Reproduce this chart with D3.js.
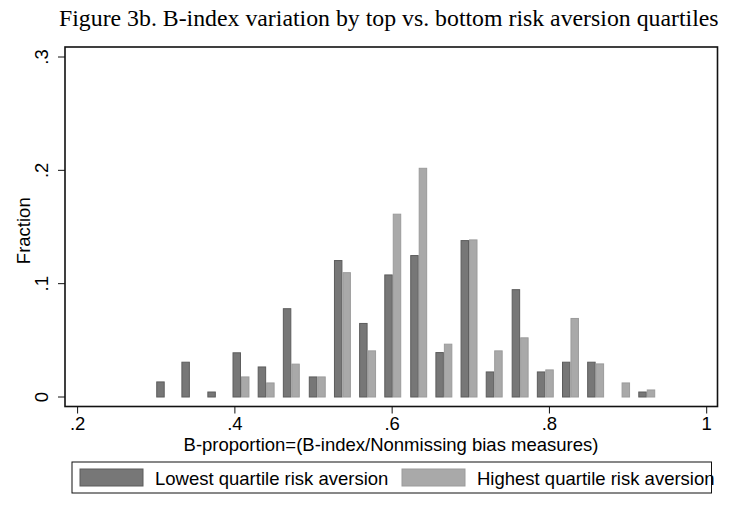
<!DOCTYPE html>
<html>
<head>
<meta charset="utf-8">
<script src="https://cdn.jsdelivr.net/npm/d3@7"></script>
<style>
  body { margin: 0; background: #fff; }
  svg { display: block; }
</style>
</head>
<body>
<div id="chart"></div>
<script>
// bin starts (B-proportion) and fractions for each group
var binStarts = [0.300, 0.332, 0.365, 0.397, 0.429, 0.461, 0.494, 0.526, 0.558, 0.590,
                 0.623, 0.655, 0.687, 0.719, 0.752, 0.784, 0.816, 0.848, 0.881, 0.913];
var binWidth = 0.0323;
var lowest  = [0.0133, 0.0307, 0.0044, 0.0390, 0.0265, 0.0779, 0.0177, 0.1204, 0.0649, 0.1077,
               0.1248, 0.0392, 0.1380, 0.0221, 0.0947, 0.0221, 0.0307, 0.0307, 0, 0.0044];
var highest = [0, 0, 0, 0.0177, 0.0124, 0.0290, 0.0177, 0.1097, 0.0407, 0.1613,
               0.2018, 0.0466, 0.1386, 0.0407, 0.0522, 0.0239, 0.0693, 0.0292, 0.0124, 0.0062];
var xTicks = [0.2, 0.4, 0.6, 0.8, 1];
var xTickLabels = ['.2', '.4', '.6', '.8', '1'];
var yTicks = [0, 0.1, 0.2, 0.3];
var yTickLabels = ['0', '.1', '.2', '.3'];
var legendLabels = ['Lowest quartile risk aversion', 'Highest quartile risk aversion'];

var W = 739, H = 510;
var frame = {left: 65, right: 717.5, top: 47, bottom: 406.5};
var sans = 'Liberation Sans, Arial, Helvetica, sans-serif';
var fs = 18.5;

var svg = d3.select('#chart').append('svg').attr('width', W).attr('height', H);

var x = d3.scaleLinear().domain([0.2, 1]).range([77.6, 706.7]);
var y = d3.scaleLinear().domain([0, 0.3]).range([397, 57]);

// title
svg.append('text')
	.attr('x', 59).attr('y', 26)
	.attr('font-family', 'Liberation Serif, Times New Roman, serif')
	.attr('font-size', 23.8)
	.text('Figure 3b. B-index variation by top vs. bottom risk aversion quartiles');

var series = [
	{values: lowest, fill: '#777777', stroke: '#5c5c5c', offset: 0},
	{values: highest, fill: '#a9a9a9', stroke: '#9b9b9b', offset: 1}
];

series.forEach(function(s) {
	svg.append('g').selectAll('rect')
		.data(binStarts.map(function(b, i) { return {b: b, v: s.values[i]}; }).filter(function(d) { return d.v > 0; }))
		.enter().append('rect')
			.attr('x', d => x(d.b + s.offset * binWidth / 3) + 0.5)
			.attr('width', d => x(d.b + binWidth / 3) - x(d.b) - 1)
			.attr('y', d => y(d.v))
			.attr('height', d => y(0) - y(d.v))
			.attr('fill', s.fill)
			.attr('stroke', s.stroke)
			.attr('stroke-width', 1);
});

// plot frame
svg.append('rect')
	.attr('x', frame.left).attr('y', frame.top)
	.attr('width', frame.right - frame.left).attr('height', frame.bottom - frame.top)
	.attr('fill', 'none').attr('stroke', '#111').attr('stroke-width', 1.6);

// y axis ticks
var yt = svg.append('g');
yt.selectAll('line').data(yTicks).enter().append('line')
	.attr('x1', frame.left - 7).attr('x2', frame.left)
	.attr('y1', d => y(d)).attr('y2', d => y(d))
	.attr('stroke', '#111').attr('stroke-width', 1);
yt.selectAll('text').data(yTicks).enter().append('text')
	.attr('transform', d => `translate(48, ${y(d)}) rotate(-90)`)
	.attr('text-anchor', 'middle')
	.attr('font-family', sans).attr('font-size', fs)
	.text((d, i) => yTickLabels[i]);

svg.append('text')
	.attr('transform', `translate(30, ${(frame.top + frame.bottom) / 2 + 4}) rotate(-90)`)
	.attr('text-anchor', 'middle')
	.attr('font-family', sans).attr('font-size', fs)
	.text('Fraction');

// x axis ticks
var xt = svg.append('g');
xt.selectAll('line').data(xTicks).enter().append('line')
	.attr('x1', d => x(d)).attr('x2', d => x(d))
	.attr('y1', frame.bottom).attr('y2', frame.bottom + 7)
	.attr('stroke', '#111').attr('stroke-width', 1);
xt.selectAll('text').data(xTicks).enter().append('text')
	.attr('x', d => x(d)).attr('y', 430)
	.attr('text-anchor', 'middle')
	.attr('font-family', sans).attr('font-size', fs)
	.text((d, i) => xTickLabels[i]);

svg.append('text')
	.attr('x', 391).attr('y', 451)
	.attr('text-anchor', 'middle')
	.attr('font-family', sans).attr('font-size', fs)
	.text('B-proportion=(B-index/Nonmissing bias measures)');

// legend
var lg = svg.append('g');
lg.append('rect')
	.attr('x', 72).attr('y', 462).attr('width', 639.5).attr('height', 31)
	.attr('fill', 'none').attr('stroke', '#111').attr('stroke-width', 1);
var legendX = [80, 402];
series.forEach(function(s, i) {
	lg.append('rect')
		.attr('x', legendX[i]).attr('y', 469).attr('width', 63).attr('height', 17)
		.attr('fill', s.fill).attr('stroke', s.stroke);
	lg.append('text')
		.attr('x', legendX[i] + 75).attr('y', 484.5)
		.attr('font-family', sans).attr('font-size', fs)
		.text(legendLabels[i]);
});
</script>
</body>
</html>
